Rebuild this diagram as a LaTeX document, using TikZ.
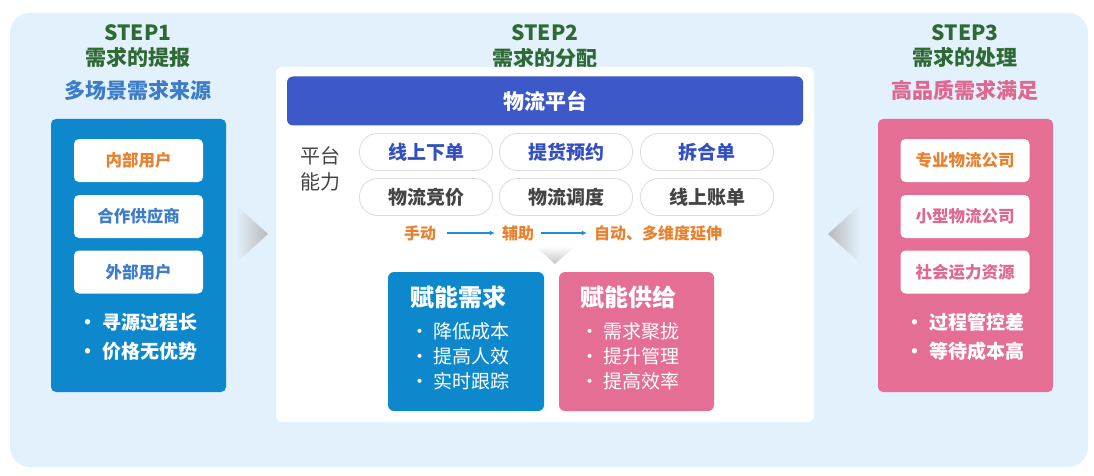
\documentclass[tikz,border=0pt]{standalone}
\usepackage{fontspec}
\setmainfont{Noto Sans CJK SC}
\usepackage{tikz}
\usetikzlibrary{positioning, arrows.meta, calc}
\definecolor{fondo}{HTML}{E3F1FC}
\definecolor{azulpaso}{HTML}{0E88CD}
\definecolor{rosapaso}{HTML}{E56E95}
\definecolor{verdetit}{HTML}{2E6A33}
\definecolor{azultit}{HTML}{3C7CC9}
\definecolor{rosatit}{HTML}{E0678F}
\definecolor{naranja}{HTML}{E8812F}
\definecolor{barra}{HTML}{3D58C8}
\definecolor{azultexto}{HTML}{3450C0}
\definecolor{grisborde}{HTML}{DCDCDC}
\definecolor{gristexto}{HTML}{444444}
\definecolor{flecha}{HTML}{1E8FD0}
\newcommand{\fsz}[1]{\fontsize{#1}{#1}\selectfont}
\tikzset{
  colbox/.style={rectangle, rounded corners=5pt, minimum width=175pt, minimum height=273pt},
  itembox/.style={rectangle, rounded corners=5pt, fill=white, minimum width=129pt, minimum height=43pt, font=\fsz{16.5}\bfseries},
  pill/.style={rectangle, rounded corners=18pt, draw=grisborde, fill=white, line width=0.8pt, minimum width=133pt, minimum height=37pt, font=\fsz{19}\bfseries},
  steptitle/.style={text=verdetit, font=\fsz{21}\bfseries, inner sep=0pt},
  bullet/.style={text=white, font=\fsz{19}\bfseries, inner sep=0pt},
  flowtext/.style={text=naranja, font=\fsz{16}\bfseries, inner sep=1pt},
  arrow/.style={flecha, line width=1.3pt, -{Latex[length=5pt,width=5pt]}}
}

\begin{document}
\begin{tikzpicture}[x=1pt, y=-1pt]
    \useasboundingbox (0,0) rectangle (1094,476);

    % Fondo general
    \fill[fondo, rounded corners=20pt] (10,13) rectangle (1088,467);

    % ==========================================
    % 1. STEP1 (lado izquierdo)
    % ==========================================
    \node[steptitle] (t1a) at (138,33) {STEP1};
    \node[steptitle] (t1b) at (138,58) {需求的提报};
    \node[steptitle, text=azultit] (t1c) at (138,90) {多场景需求来源};

    \node[colbox, fill=azulpaso] (fuente) at (138.5,255.5) {};
    \node[itembox, text=naranja] (f1) at (138.5,160.5) {内部用户};
    \node[itembox, text=azultit] (f2) at (138.5,216.5) {合作供应商};
    \node[itembox, text=azultit] (f3) at (138.5,272) {外部用户};
    \node[bullet] (f4) at (138,322) {• 寻源过程长};
    \node[bullet] (f5) at (138,351) {• 价格无优势};

    % flecha gris hacia el centro
    \shade[left color=fondo, right color=gray!55] (236,205) -- (268,234) -- (236,263) -- cycle;

    % ==========================================
    % 2. STEP2 (centro)
    % ==========================================
    \node[steptitle] (t2a) at (545,33) {STEP2};
    \node[steptitle] (t2b) at (545,58) {需求的分配};

    \node[rectangle, rounded corners=6pt, fill=white, minimum width=538pt, minimum height=355pt] (panel) at (545,244.5) {};
    \node[rectangle, rounded corners=6pt, fill=barra, text=white, font=\fsz{21}\bfseries, minimum width=516pt, minimum height=49pt] (plataforma) at (545,101) {物流平台};

    \node[align=center, text=gristexto, font=\fsz{20}, inner sep=0pt] (capacidad) at (320,169) {平台\\[6pt]能力};

    % Capacidades de la plataforma
    \foreach \x/\nom/\txt in {426/c1/线上下单, 566/c2/提货预约, 707/c3/拆合单} {
        \node[pill, text=azultexto] (\nom) at (\x,152) {\txt};
    }
    \foreach \x/\nom/\txt in {426/c4/物流竞价, 566/c5/物流调度, 707/c6/线上账单} {
        \node[pill, text=gristexto] (\nom) at (\x,197) {\txt};
    }

    % Evolucion
    \node[flowtext] (manual) at (420,233) {手动};
    \node[flowtext] (ayuda) at (518,233) {辅助};
    \node[flowtext] (auto) at (658,233) {自动、多维度延伸};
    \draw[arrow] (manual.east) ++(10pt,0) -- ($(ayuda.west)+(-6pt,0)$);
    \draw[arrow] (ayuda.east) ++(6pt,0) -- ($(auto.west)+(-6pt,0)$);

    % flecha gris hacia abajo
    \shade[top color=white, bottom color=gray!45] (535,246) -- (575,246) -- (555,264) -- cycle;

    % Cajas de resultados
    \node[rectangle, rounded corners=6pt, fill=azulpaso, minimum width=156pt, minimum height=139pt] (demanda) at (466,341.5) {};
    \node[rectangle, rounded corners=6pt, fill=rosapaso, minimum width=155pt, minimum height=139pt] (oferta) at (636.5,341.5) {};
    \node[anchor=west, text=white, font=\fsz{24}\bfseries, inner sep=0pt] (d0) at (410,297) {赋能需求};
    \node[anchor=west, text=white, font=\fsz{24}\bfseries, inner sep=0pt] (o0) at (580,297) {赋能供给};
    \foreach \y/\i/\a/\b in {331/1/降低成本/需求聚拢, 356/2/提高人效/提升管理, 381/3/实时跟踪/提高效率} {
        \node[anchor=west, text=white, font=\fsz{19}, inner sep=0pt] (d\i) at (410,\y) {• \a};
        \node[anchor=west, text=white, font=\fsz{19}, inner sep=0pt] (o\i) at (580,\y) {• \b};
    }

    % ==========================================
    % 3. STEP3 (lado derecho)
    % ==========================================
    \node[steptitle] (t3a) at (965,33) {STEP3};
    \node[steptitle] (t3b) at (965,58) {需求的处理};
    \node[steptitle, text=rosatit] (t3c) at (965,90) {高品质需求满足};

    \node[colbox, fill=rosapaso] (proceso) at (965.5,255.5) {};
    \node[itembox, text=naranja] (p1) at (965,160.5) {专业物流公司};
    \node[itembox, text=rosatit] (p2) at (965,216.5) {小型物流公司};
    \node[itembox, text=rosatit] (p3) at (965,272) {社会运力资源};
    \node[bullet] (p4) at (965,322) {• 过程管控差};
    \node[bullet] (p5) at (965,351) {• 等待成本高};

    % flecha gris hacia el centro
    \shade[left color=gray!55, right color=fondo] (860,205) -- (828,234) -- (860,263) -- cycle;

\end{tikzpicture}
\end{document}
